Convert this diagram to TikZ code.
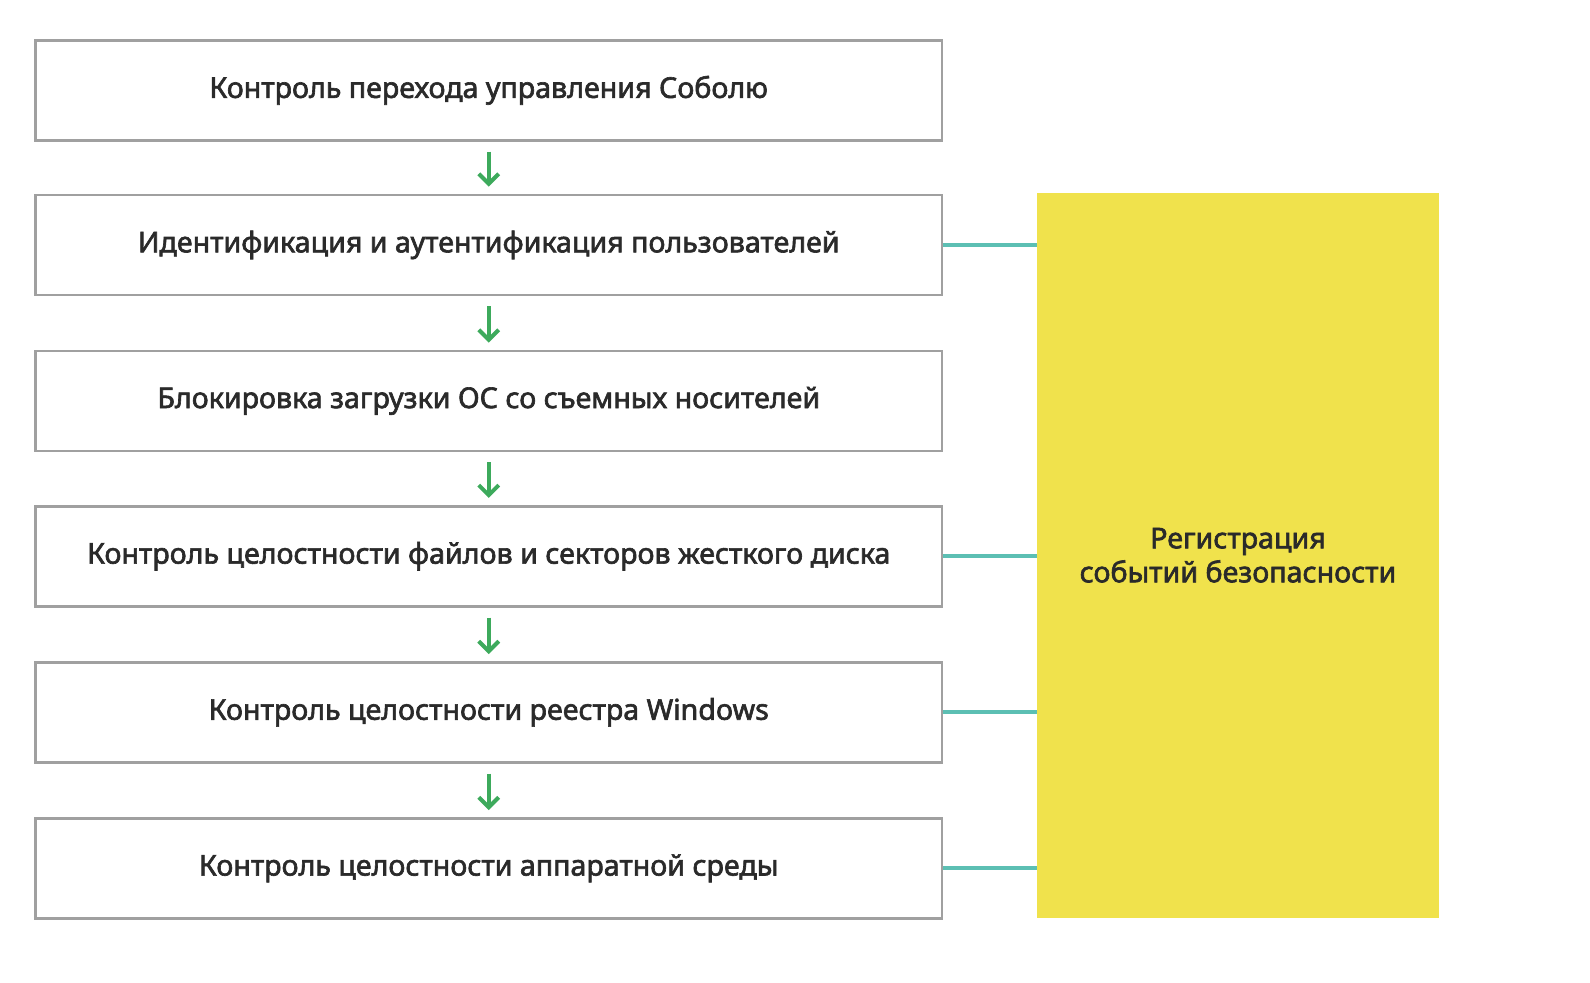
\documentclass[tikz,border=0pt]{standalone}
\usepackage{fontspec}
\setmainfont{Noto Sans}[FakeBold=2.2]
\usetikzlibrary{arrows.meta}
\definecolor{boxgray}{HTML}{A0A0A0}
\definecolor{txt}{HTML}{2A2A2A}
\definecolor{arrgreen}{HTML}{3DAA5C}
\definecolor{teal}{HTML}{5CBFB3}
\definecolor{regyellow}{HTML}{F0E24C}
\begin{document}
\begin{tikzpicture}[x=0.5pt,y=-0.5pt,
  stepbox/.style={draw=boxgray,line width=1.3pt,fill=white,minimum width=453.25pt,minimum height=50pt,inner sep=0pt,text=txt,font=\fontsize{14.3}{17}\selectfont},
  flow/.style={draw=arrgreen,line width=2pt,-{Straight Barb[length=5pt,width=10pt,line width=2pt]},shorten <=5pt,shorten >=3.5pt},
  link/.style={draw=teal,line width=2pt}]
\useasboundingbox (0,0) rectangle (1590,982);
\node[stepbox] (b1) at (488.75,90.3) {Контроль перехода управления Соболю};
\node[stepbox] (b2) at (488.75,244.9) {Идентификация и аутентификация пользователей};
\node[stepbox] (b3) at (488.75,400.9) {Блокировка загрузки ОС со съемных носителей};
\node[stepbox] (b4) at (488.75,556.2) {Контроль целостности файлов и секторов жесткого диска};
\node[stepbox] (b5) at (488.75,712.3) {Контроль целостности реестра Windows};
\node[stepbox] (b6) at (488.75,868.4) {Контроль целостности аппаратной среды};
\node[fill=regyellow,minimum width=201pt,minimum height=362.5pt,inner sep=0pt,text=txt,align=center,font=\fontsize{14.3}{17}\selectfont] (reg) at (1238,555.2) {Регистрация\\событий безопасности};
\draw[flow] (b1) -- (b2);
\draw[flow] (b2) -- (b3);
\draw[flow] (b3) -- (b4);
\draw[flow] (b4) -- (b5);
\draw[flow] (b5) -- (b6);
\draw[link] (b2.east) -- (b2.east -| reg.west);
\draw[link] (b4.east) -- (b4.east -| reg.west);
\draw[link] (b5.east) -- (b5.east -| reg.west);
\draw[link] (b6.east) -- (b6.east -| reg.west);
\end{tikzpicture}
\end{document}
